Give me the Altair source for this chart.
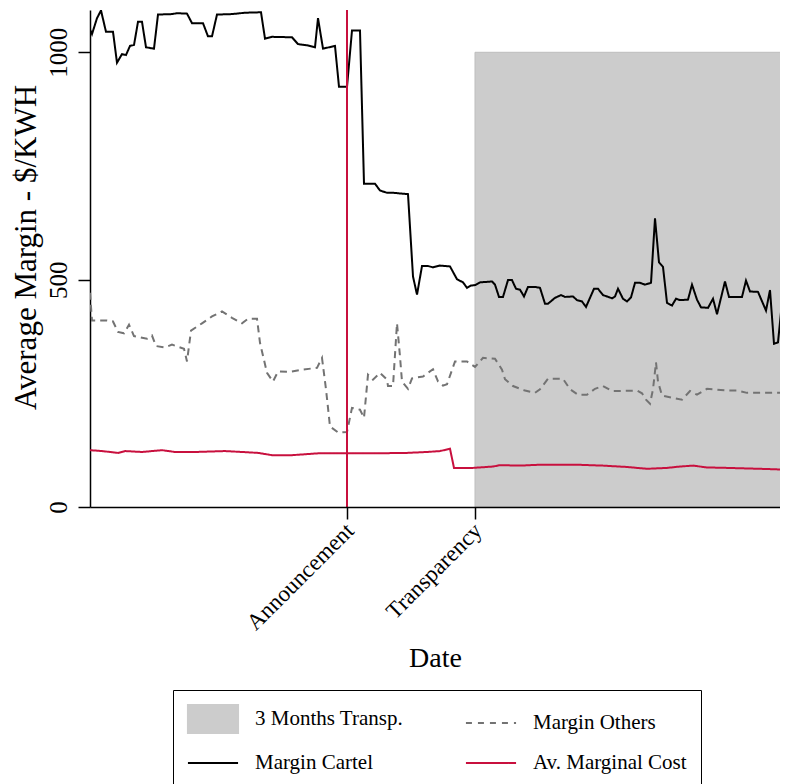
import altair as alt
import pandas as pd

# time index (periods) and values
cartel_t = [0,2,7,11,16,23,27,32,36,40,44,48,52,56,64,68,82,87,97,102,113,118,122,127,142,155,171,175,182,202,
            208,218,225,228,233,245,249,257,262,270,274,285,290,297,303,318,323,327,332,338,343,350,360,367,373,377,381,385,390,402,
            405,409,413,418,422,426,430,434,438,445,450,455,458,465,471,475,483,487,492,496,504,508,513,517,522,525,528,533,537,541,
            545,550,555,561,565,569,573,577,582,586,590,598,602,607,611,618,623,627,635,639,652,656,660,668,676,680,684,688,693,698]
cartel_v = [1050,1040,1075,1092,1045,1045,977,996,994,1014,1016,1067,1067,1011,1008,1083,1084,1086,1085,1064,
            1064,1035,1035,1083,1084,1087,1088,1030,1034,1033,1018,1015,1011,1075,1008,1014,924,924,1048,1048,
            711,711,696,691,691,688,507,467,530,530,527,531,529,501,494,482,487,488,494,496,
            489,462,462,499,499,480,478,463,484,484,482,447,447,460,466,462,463,455,452,440,
            480,480,466,463,459,463,480,458,452,461,493,493,489,493,635,538,528,449,443,458,
            455,456,489,456,439,438,458,424,496,462,462,498,474,473,432,477,359,362,473,460]

others_t = [0,2,17,23,28,34,39,44,57,62,66,75,82,94,97,101,112,122,132,142,152,158,167,170,177,183,188,200,212,227,
            232,236,240,248,257,262,270,274,278,283,290,297,298,303,307,310,312,318,322,333,343,348,353,357,365,377,385,393,405,412,
            415,423,435,445,450,458,473,480,488,497,505,513,522,547,552,556,560,563,566,568,572,583,592,600,607,617,637,647,657,670,693,698]
others_v = [471,410,410,408,385,382,401,376,370,377,354,351,357,348,320,388,404,419,430,416,404,414,414,361,295,276,298,297,302,306,
            328,259,177,164,165,218,214,196,291,280,295,280,266,266,404,331,276,260,283,287,303,276,267,270,320,320,308,328,326,302,
            281,266,256,251,259,282,282,259,247,247,260,266,255,256,250,236,227,259,318,276,245,240,236,255,247,260,256,256,251,251,251,262]

cost_t = [0,12,28,35,52,72,85,105,135,152,168,182,202,228,257,283,317,337,350,360,364,383,403,410,430,450,487,513,537,557,
          577,590,603,617,637,670,698]
cost_v = [125,123,119,123,121,125,121,121,123,121,119,114,114,118,118,118,119,121,123,128,86,86,89,92,91,93,93,91,88,84,
          86,89,91,87,86,84,82]

event_t = [257, 385]
event_labels = ["Announcement", "Transparency"]
transp_start, transp_end, transp_low, transp_high = 385, 698, 0, 1000

series_names = ["3 Months Transp.", "Margin Others", "Margin Cartel", "Av. Marginal Cost"]
series_colors = ["#cccccc", "#737373", "#000000", "#c8103e"]

FONT = "Liberation Serif"

lines = pd.concat([
    pd.DataFrame({"t": others_t, "v": others_v, "series": "Margin Others"}),
    pd.DataFrame({"t": cartel_t, "v": cartel_v, "series": "Margin Cartel"}),
    pd.DataFrame({"t": cost_t, "v": cost_v, "series": "Av. Marginal Cost"}),
])
band = pd.DataFrame({"t": [transp_start], "t2": [transp_end], "v": [transp_low], "v2": [transp_high],
                     "series": [series_names[0]]})
events = pd.DataFrame({"t": event_t, "label": event_labels})

label_expr = " : ".join(f"datum.value == {t} ? '{l}'" for t, l in zip(event_t, event_labels)) + " : ''"

xscale = alt.Scale(domain=[0, 690], nice=False, zero=False)
yscale = alt.Scale(domain=[0, 1093], nice=False)
color_scale = alt.Scale(domain=series_names, range=series_colors)

is_band = f"datum.value === '{series_names[0]}'"
legend = alt.Legend(
    title=None, orient="none", legendX=83, legendY=680, columns=2, direction="horizontal",
    values=series_names,
    symbolSize=784, symbolStrokeWidth=2, symbolOffset=11,
    symbolType={"expr": f"{is_band} ? 'M-1.79,-1H1.79V1H-1.79Z' : 'M-1.79,0H1.79'"},
    symbolFillColor={"expr": f"{is_band} ? '#cccccc' : 'transparent'"},
    symbolStrokeColor={"expr": f"{is_band} ? '#bdbdbd' : scale('color', datum.value)"},
    symbolDash={"expr": "datum.value === 'Margin Others' ? [6, 6] : [1, 0]"},
    symbolOpacity=1,
    labelFont=FONT, labelFontSize=21, labelColor="black", labelOffset=27,
    strokeColor="black", padding=14, rowPadding=11, columnPadding=57,
)

xaxis = alt.Axis(values=event_t, labelExpr=label_expr, labelAngle=315, labelAlign="right",
                 labelBaseline="top", title="Date", zindex=1, labelFontSize=23, labelOffset=-5,
                 titleFontSize=28, titlePadding=10, labelPadding=0)
yaxis = alt.Axis(values=[0, 500, 1000], format="d", labelAngle=270, labelAlign="center",
                 labelBaseline="bottom", title="Average Margin - $/KWH", labelFontSize=25,
                 titleFontSize=31, titlePadding=4, labelPadding=7, titleY=237)

rect = alt.Chart(band).mark_rect(stroke="#bdbdbd", strokeWidth=1, clip=True).encode(
    x=alt.X("t:Q", scale=xscale, axis=xaxis),
    x2="t2:Q",
    y=alt.Y("v:Q", scale=yscale, axis=yaxis),
    y2="v2:Q",
    color=alt.Color("series:N", scale=color_scale, legend=legend),
)

line = alt.Chart(lines).mark_line(strokeWidth=2, clip=True).encode(
    x=alt.X("t:Q", scale=xscale),
    y=alt.Y("v:Q", scale=yscale),
    color=alt.Color("series:N", scale=color_scale, legend=legend),
    strokeDash=alt.StrokeDash("series:N", scale=alt.Scale(
        domain=series_names[1:], range=[[7, 5], [1, 0], [1, 0]]), legend=None),
    strokeWidth=alt.StrokeWidth("series:N", scale=alt.Scale(
        domain=series_names[1:], range=[2.5, 2.2, 2]), legend=None),
    order="t:Q",
)

rule = alt.Chart(events.iloc[[0]]).mark_rule(color="#c8103e", strokeWidth=2).encode(
    x=alt.X("t:Q", scale=xscale)
)

chart = alt.layer(rect, line, rule).properties(
    width=690, height=497,
    autosize=alt.AutoSizeParams(type="none"),
    padding={"left": 82, "top": 2, "right": 0, "bottom": 290},
).configure_view(stroke=None).configure_axis(
    grid=False, domainColor="black", domainWidth=1.5, tickColor="black", tickWidth=1.5, tickSize=12,
    labelFont=FONT, labelColor="black",
    titleFont=FONT, titleFontWeight="normal", titleColor="black",
)

chart.save("out.html", embed_options={"renderer": "svg", "actions": False})
